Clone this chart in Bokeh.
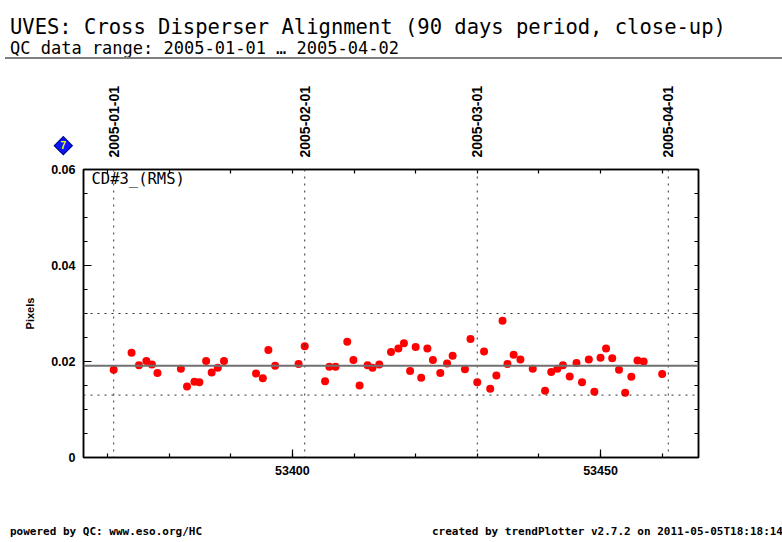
from math import pi
from datetime import date

from bokeh.plotting import figure
from bokeh.layouts import column
from bokeh.models import (ColumnDataSource, Label, LinearAxis, Span, FixedTicker,
                          SingleIntervalTicker, Range1d, Div)
from bokeh.embed import file_html
from bokeh.resources import INLINE

# values (MJD, pixels)
mjd = [53371.0, 53373.9, 53375.1, 53376.3, 53377.2, 53378.1, 53381.9, 53382.9, 53384.1, 53384.9,
       53386.0, 53386.9, 53387.9, 53388.9, 53394.1, 53395.2, 53396.1, 53397.2, 53401.0, 53402.0,
       53405.3, 53406.0, 53407.0, 53408.9, 53409.9, 53410.9, 53412.2, 53413.0, 53414.1, 53416.0,
       53417.2, 53418.1, 53419.1, 53420.0, 53420.9, 53421.9, 53422.8, 53424.0, 53425.1, 53426.0,
       53428.0, 53428.9, 53430.0, 53431.1, 53432.1, 53433.1, 53434.1, 53434.9, 53435.9, 53437.0,
       53439.0, 53441.0, 53442.0, 53443.0, 53443.9, 53445.0, 53446.1, 53447.0, 53448.1, 53449.0,
       53450.0, 53450.9, 53451.9, 53453.0, 53454.0, 53455.0, 53456.0, 53457.0, 53460.0]
cd3_rms = [0.0183, 0.0218, 0.0192, 0.0201, 0.0194, 0.0176, 0.0185, 0.0148, 0.0158, 0.0157,
           0.0201, 0.0177, 0.0187, 0.0201, 0.0175, 0.0165, 0.0224, 0.0191, 0.0195, 0.0232,
           0.0159, 0.0189, 0.0189, 0.0241, 0.0203, 0.0150, 0.0192, 0.0187, 0.0194, 0.0220,
           0.0227, 0.0238, 0.0180, 0.0230, 0.0166, 0.0227, 0.0203, 0.0176, 0.0196, 0.0212,
           0.0184, 0.0247, 0.0157, 0.0221, 0.0143, 0.0171, 0.0285, 0.0195, 0.0214, 0.0204,
           0.0185, 0.0139, 0.0178, 0.0185, 0.0192, 0.0169, 0.0197, 0.0157, 0.0204, 0.0137,
           0.0208, 0.0227, 0.0207, 0.0183, 0.0135, 0.0168, 0.0202, 0.0200, 0.0174]
date_marks = ["2005-01-01", "2005-02-01", "2005-03-01", "2005-04-01"]
mean_level = 0.0191
limits = [0.013, 0.030]

title = "UVES: Cross Disperser Alignment (90 days period, close-up)"
subtitle = "QC data range: 2005-01-01 \u2026 2005-04-02"
param_name = "CD#3_(RMS)"
footer_left = "powered by QC: www.eso.org/HC"
footer_right = "created by trendPlotter v2.7.2 on 2011-05-05T18:18:14"
badge = "7"

MJD0 = date(1858, 11, 17)
mark_mjd = [(date.fromisoformat(d) - MJD0).days for d in date_marks]
x_lo, x_hi = 53366.1, 53465.9
y_lo, y_hi = 0.0, 0.06

W, H = 782, 542
MONO = "DejaVu Sans Mono"
SANS = "Liberation Sans"

# ---- main plot box
p = figure(width=W, height=H, x_range=Range1d(x_lo, x_hi), y_range=Range1d(y_lo, y_hi),
           toolbar_location=None, tools="", output_backend="svg",
           min_border_left=83, min_border_right=84, min_border_top=169, min_border_bottom=85,
           background_fill_color="white", border_fill_color="white")
p.grid.visible = False
p.outline_line_color = "black"
p.outline_line_width = 1.5

def style(ax):
    ax.axis_line_color = "black"
    ax.axis_line_width = 1.5
    ax.major_tick_in = 8
    ax.major_tick_out = 0
    ax.minor_tick_in = 4
    ax.minor_tick_out = 0
    ax.major_tick_line_width = 1.2
    ax.minor_tick_line_width = 1.2
    ax.major_tick_line_color = "black"
    ax.minor_tick_line_color = "black"
    ax.major_label_text_font = SANS
    ax.major_label_text_font_style = "bold"
    ax.major_label_text_font_size = "12.5px"
    ax.major_label_text_color = "black"

p.xaxis.ticker = SingleIntervalTicker(interval=50, num_minor_ticks=5)
p.yaxis.ticker = SingleIntervalTicker(interval=0.02, num_minor_ticks=4)
p.yaxis.major_label_overrides = {0: "0"}
style(p.xaxis[0])
style(p.yaxis[0])
p.xaxis.major_label_standoff = 8
p.yaxis.major_label_standoff = 8
p.yaxis.axis_label = "Pixels"
p.yaxis.axis_label_text_font = SANS
p.yaxis.axis_label_text_font_style = "bold"
p.yaxis.axis_label_text_font_size = "11px"
p.yaxis.axis_label_text_color = "black"
p.yaxis.axis_label_standoff = 12

# top: date labels as major ticks, 10-day marks as inward minor ticks
top_ax = LinearAxis(ticker=FixedTicker(ticks=mark_mjd,
                                       minor_ticks=list(range(53370, 53470, 10))))
style(top_ax)
top_ax.major_tick_in = 0
top_ax.major_label_orientation = pi / 2
top_ax.major_label_text_font_size = "14px"
top_ax.major_label_standoff = 12
top_ax.major_label_overrides = {m: d for m, d in zip(mark_mjd, date_marks)}
p.add_layout(top_ax, "above")

# right: inward ticks only
right_ax = LinearAxis(ticker=FixedTicker(ticks=[], minor_ticks=[i * 0.005 for i in range(13)]))
style(right_ax)
p.add_layout(right_ax, "right")

# reference lines
for m in mark_mjd:
    p.add_layout(Span(location=m, dimension="height", line_color="#333333",
                      line_dash="2 5", line_width=1))
for lim in limits:
    p.add_layout(Span(location=lim, dimension="width", line_color="#333333",
                      line_dash="2 5", line_width=1))
p.add_layout(Span(location=mean_level, dimension="width", line_color="#707070", line_width=2))

src = ColumnDataSource(data=dict(mjd=mjd, rms=cd3_rms))
p.scatter(x="mjd", y="rms", size=8, fill_color="#ff0000", line_color=None, source=src)

p.add_layout(Label(x=8, y=270, x_units="screen", y_units="screen", text=param_name,
                   text_font=MONO, text_font_size="15.5px", text_color="black"))

# ---- page header / footer / badge, laid over the plot (the plot clips its own
# annotations to the frame, so these live in a transparent layer on top)
def svg_text(x, y, text, font, size, weight="normal", anchor="start", color="black"):
    css = (f"font-family:'{font}';font-size:{size}px;font-weight:{weight};"
           f"font-style:normal;fill:{color}")
    return f'<text x="{x}" y="{y}" text-anchor="{anchor}" style="{css}">{text}</text>'

bx, by, br = 58.3, 140.7, 9
page = "".join([
    f'<svg xmlns="http://www.w3.org/2000/svg" width="{W}" height="{H}" '
    'style="position:absolute;left:0;top:0">',
    svg_text(5, 29, title, MONO, 20.5),
    svg_text(5, 49, subtitle, MONO, 17),
    f'<rect x="0" y="52" width="{W}" height="2" fill="#808080"/>',
    f'<polygon points="{bx},{by - br} {bx + br},{by} {bx},{by + br} {bx - br},{by}" '
    'fill="#0a14ff" stroke="#00008b" stroke-width="1.2"/>',
    svg_text(bx, by + 3.6, badge, SANS, 10, weight="bold", anchor="middle", color="#ffff00"),
    svg_text(5, 530, footer_left, MONO, 11, weight="bold"),
    svg_text(778, 530, footer_right, MONO, 11, weight="bold", anchor="end"),
    '</svg>',
])
overlay = Div(text=page, width=W, height=H,
              styles={"position": "absolute", "left": "0px", "top": "0px"})

layout = column(p, overlay, styles={"position": "relative", "overflow": "hidden"})

open("out.html", "w").write(file_html(layout, INLINE))
